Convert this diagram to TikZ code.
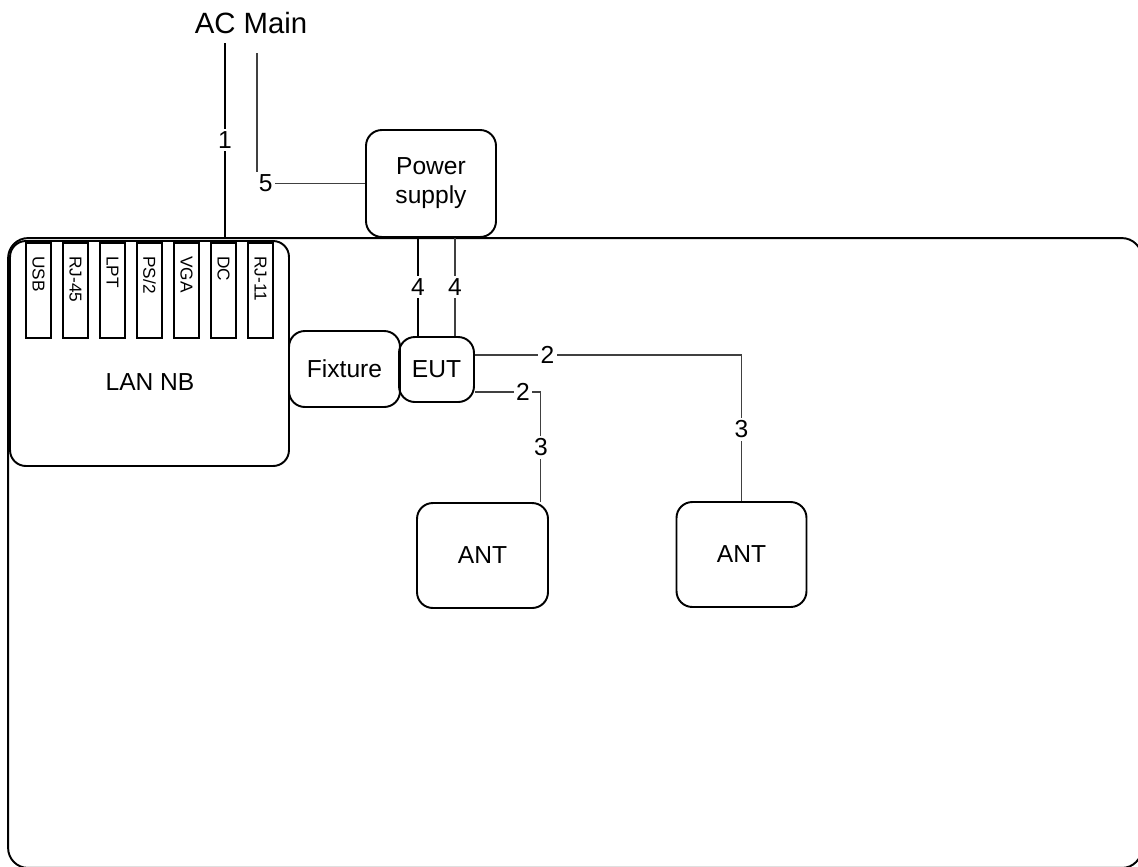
\documentclass[tikz,border=0pt]{standalone}
\usepackage{fontspec}
\setmainfont{Liberation Sans}
\usetikzlibrary{calc,positioning}

\newcommand{\lbl}{\fontsize{14}{16.5}\selectfont}
\newcommand{\portlbl}{\fontsize{9.8}{11}\selectfont}
\tikzset{
  box/.style={draw, line width=1.1pt, rounded corners=9pt, align=center, font=\lbl, inner sep=2pt},
  port/.style={draw, line width=1.1pt, minimum width=0.5cm, minimum height=1.9cm, inner sep=0pt},
  wire/.style={draw=black!75, line width=0.6pt},
  num/.style={fill=white, inner sep=1.5pt, font=\lbl},
}

\begin{document}
\begin{tikzpicture}[x=0.02cm, y=-0.02cm]
  \useasboundingbox (0,0) rectangle (1138,866);
  \clip (0,0) rectangle (1138,866);
  % test table
  \node[draw, line width=1.1pt, rounded corners=0.4cm, minimum width=22.68cm, minimum height=12.6cm] (table) at (575,553) {};
  % notebook with its ports
  \node[box, minimum width=5.58cm, minimum height=4.5cm] (lan) at (149.5,353.5) {};
  \foreach \t [count=\i] in {USB,RJ-45,LPT,{PS/2},VGA,DC,RJ-11}{
    \node[port] (p\i) at ({38.5+37*(\i-1)},290.5) {};
    \node[rotate=-90, anchor=west, font=\portlbl, inner sep=0pt] (pt\i) at ($(p\i.north)+(0,14)$) {\t};
  }
  \node[font=\lbl] (lantxt) at (150,382) {LAN NB};
  % devices
  \node[box, minimum width=2.6cm, minimum height=2.14cm] (psu) at (431,183.5) {Power\\supply};
  \node[box, minimum width=2.22cm, minimum height=1.52cm] (fix) at (344.5,369) {Fixture};
  \node[box, minimum width=1.5cm, minimum height=1.3cm] (eut) at (436.5,369.5) {EUT};
  \node[box, minimum width=2.62cm, minimum height=2.1cm] (ant1) at (482.5,555.5) {ANT};
  \node[box, minimum width=2.6cm, minimum height=2.1cm] (ant2) at (741.5,554.5) {ANT};
  \node[font=\fontsize{16.7}{20}\selectfont] (ac) at (251,23) {AC Main};
  % cables
  \coordinate (ac1) at (225,43);
  \coordinate (ac5) at (257,53);
  \draw[line width=1.1pt] (ac1) -- node[num] {1} (ac1 |- table.north);
  \draw[wire] (ac5) |- node[num, pos=0.54] {5} (psu.west);
  \coordinate (c4a) at ($(psu.south)+(-13,0)$);
  \coordinate (c4b) at ($(psu.south)+(24,0)$);
  \draw[wire, draw=black] (c4a) -- node[num] {4} (c4a |- eut.north);
  \draw[wire] (c4b) -- node[num] {4} (c4b |- eut.north);
  \coordinate (c2a) at ($(eut.east)+(0,-14.5)$);
  \coordinate (c2b) at ($(eut.east)+(0,22.5)$);
  \coordinate (c3b) at ($(ant1.north east)+(-8,0)$);
  \draw[wire] (c2a) -| node[num, pos=0.136] {2} node[num, pos=0.755] {3} (ant2.north);
  \draw[wire] (c2b) -| node[num, pos=0.364] {2} node[num, pos=0.752] {3} (c3b);
\end{tikzpicture}
\end{document}
